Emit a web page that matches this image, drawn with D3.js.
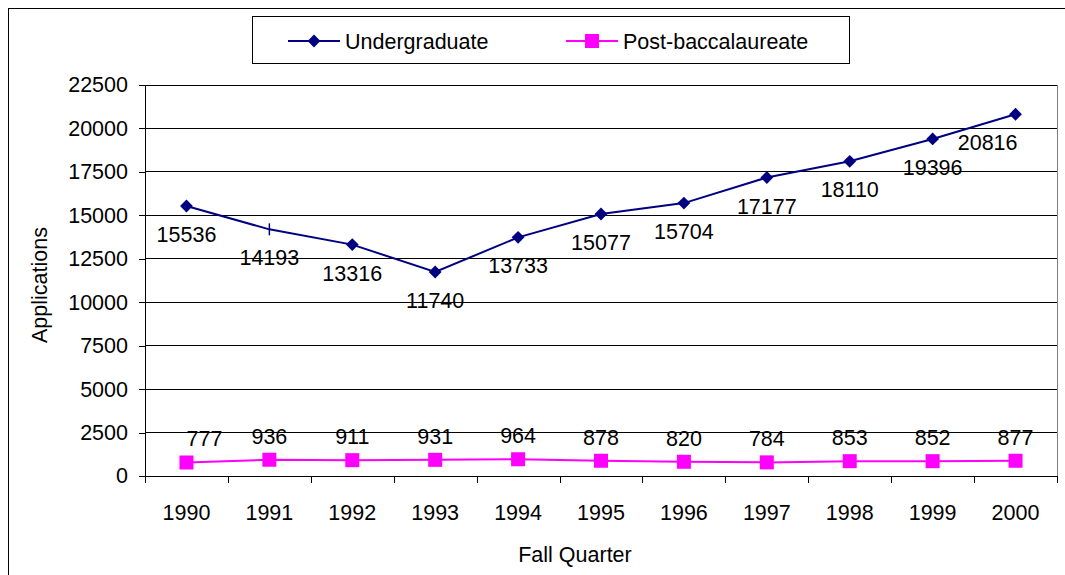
<!DOCTYPE html>
<html>
<head>
<meta charset="utf-8">
<script src="https://cdn.jsdelivr.net/npm/d3@7"></script>
<style>
  body { margin: 0; background: #fff; }
  svg text { font-family: "Liberation Sans", Arial, sans-serif; fill: #000; }
  .axis path, .axis line { stroke: #000; shape-rendering: crispEdges; }
  .grid line { stroke: #000; shape-rendering: crispEdges; }
</style>
</head>
<body>
<script>
// data
var years = ["1990", "1991", "1992", "1993", "1994", "1995", "1996", "1997", "1998", "1999", "2000"];
var undergraduate = [15536, 14193, 13316, 11740, 13733, 15077, 15704, 17177, 18110, 19396, 20816];
var postBacc = [777, 936, 911, 931, 964, 878, 820, 784, 853, 852, 877];
var yTicks = [0, 2500, 5000, 7500, 10000, 12500, 15000, 17500, 20000, 22500];

var W = 1065, H = 575;
var plot = {left: 145, right: 1057, top: 85, bottom: 476};
var fs = "21.5px";

var svg = d3.select("body").append("svg")
    .attr("width", W)
    .attr("height", H);

// outer chart frame (runs off the right/bottom of the picture)
svg.append("rect")
    .attr("x", 8.5).attr("y", 8.5)
    .attr("width", W + 20).attr("height", H + 20)
    .attr("fill", "none")
    .attr("stroke", "#000");

var x = d3.scaleBand()
    .domain(years)
    .range([plot.left, plot.right])
    .padding(0);

var y = d3.scaleLinear()
    .domain([0, 22500])
    .range([plot.bottom, plot.top]);

var cx = function (d, i) { return x(years[i]) + x.bandwidth() / 2; };

// gridlines
svg.append("g")
    .attr("class", "grid")
    .selectAll("line")
    .data(yTicks.slice(1))
    .enter().append("line")
    .attr("x1", plot.left).attr("x2", plot.right)
    .attr("y1", function (d) { return y(d); })
    .attr("y2", function (d) { return y(d); });

// right edge of plot area
svg.append("line")
    .attr("x1", plot.right + 0.5).attr("x2", plot.right + 0.5)
    .attr("y1", plot.top).attr("y2", plot.bottom)
    .attr("stroke", "#808080");

// y axis
var yAxis = svg.append("g")
    .attr("class", "axis")
    .attr("transform", "translate(" + plot.left + ",0)")
    .call(d3.axisLeft(y).tickValues(yTicks).tickSize(6).tickSizeOuter(0).tickPadding(11).tickFormat(d3.format("d")));
yAxis.selectAll("text").style("font-size", fs);

// x axis: ticks between categories
var xAxis = svg.append("g")
    .attr("class", "axis")
    .attr("transform", "translate(0," + plot.bottom + ")");
xAxis.append("line")
    .attr("x1", plot.left).attr("x2", plot.right)
    .attr("y1", 0.5).attr("y2", 0.5);
xAxis.selectAll("line.tick")
    .data(years.concat(["end"]))
    .enter().append("line")
    .attr("class", "tick")
    .attr("x1", function (d, i) { return Math.round(plot.left + i * x.step()) + 0.5; })
    .attr("x2", function (d, i) { return Math.round(plot.left + i * x.step()) + 0.5; })
    .attr("y1", 0).attr("y2", 7);
xAxis.selectAll("text")
    .data(years)
    .enter().append("text")
    .attr("x", function (d) { return x(d) + x.bandwidth() / 2; })
    .attr("y", 44)
    .attr("text-anchor", "middle")
    .style("font-size", fs)
    .text(function (d) { return d; });

// axis titles
svg.append("text")
    .attr("transform", "translate(47,285) rotate(-90)")
    .attr("text-anchor", "middle")
    .style("font-size", fs)
    .text("Applications");

svg.append("text")
    .attr("x", 575).attr("y", 562)
    .attr("text-anchor", "middle")
    .style("font-size", fs)
    .text("Fall Quarter");

var line = d3.line()
    .x(cx)
    .y(function (d) { return y(d); });

var navy = "#000080", magenta = "#ff00ff";

// undergraduate
svg.append("path")
    .datum(undergraduate)
    .attr("d", line)
    .attr("fill", "none")
    .attr("stroke", navy)
    .attr("stroke-width", 2);

// the 1991 marker shows as a short vertical dash in the original
svg.selectAll("path.ug")
    .data(undergraduate)
    .enter().append("path")
    .attr("class", "ug")
    .attr("transform", function (d, i) {
        return "translate(" + cx(d, i) + "," + y(d) + ")" + (i === 1 ? "" : " rotate(45)");
    })
    .attr("d", function (d, i) { return i === 1 ? "M0,-6L0,6" : d3.symbol().type(d3.symbolSquare).size(82)(); })
    .attr("fill", navy)
    .attr("stroke", navy)
    .attr("stroke-width", function (d, i) { return i === 1 ? 1.5 : 0; });

svg.selectAll("text.ugl")
    .data(undergraduate)
    .enter().append("text")
    .attr("class", "ugl")
    .attr("x", function (d, i) { return i === undergraduate.length - 1 ? cx(d, i) + 2 : cx(d, i); })
    .attr("y", function (d) { return y(d) + 36; })
    .attr("text-anchor", function (d, i) { return i === undergraduate.length - 1 ? "end" : "middle"; })
    .style("font-size", fs)
    .text(function (d) { return d; });

// post-baccalaureate
svg.append("path")
    .datum(postBacc)
    .attr("d", line)
    .attr("fill", "none")
    .attr("stroke", magenta)
    .attr("stroke-width", 2);

svg.selectAll("rect.pb")
    .data(postBacc)
    .enter().append("rect")
    .attr("class", "pb")
    .attr("x", function (d, i) { return cx(d, i) - 7; })
    .attr("y", function (d) { return y(d) - 7; })
    .attr("width", 14).attr("height", 14)
    .attr("fill", magenta);

svg.selectAll("text.pbl")
    .data(postBacc)
    .enter().append("text")
    .attr("class", "pbl")
    .attr("x", function (d, i) { return i === 0 ? cx(d, i) + 18 : cx(d, i); })
    .attr("y", function (d) { return y(d) - 16; })
    .attr("text-anchor", "middle")
    .style("font-size", fs)
    .text(function (d) { return d; });

// legend
var legend = svg.append("g");
legend.append("rect")
    .attr("x", 252.5).attr("y", 16.5)
    .attr("width", 597).attr("height", 47)
    .attr("fill", "#fff")
    .attr("stroke", "#000");

var items = [
    {name: "Undergraduate", color: navy, x0: 288},
    {name: "Post-baccalaureate", color: magenta, x0: 566}
];
var li = legend.selectAll("g.item")
    .data(items)
    .enter().append("g")
    .attr("class", "item")
    .attr("transform", function (d) { return "translate(" + d.x0 + ",41)"; });
li.append("line")
    .attr("x1", 0).attr("x2", 52)
    .attr("stroke", function (d) { return d.color; })
    .attr("stroke-width", 2);
li.append("path")
    .attr("transform", function (d, i) { return i === 0 ? "translate(26,0) rotate(45)" : "translate(26,0)"; })
    .attr("d", function (d, i) { return d3.symbol().type(d3.symbolSquare).size(i === 0 ? 82 : 196)(); })
    .attr("fill", function (d) { return d.color; });
li.append("text")
    .attr("x", 57).attr("y", 8)
    .style("font-size", fs)
    .text(function (d) { return d.name; });
</script>
</body>
</html>
